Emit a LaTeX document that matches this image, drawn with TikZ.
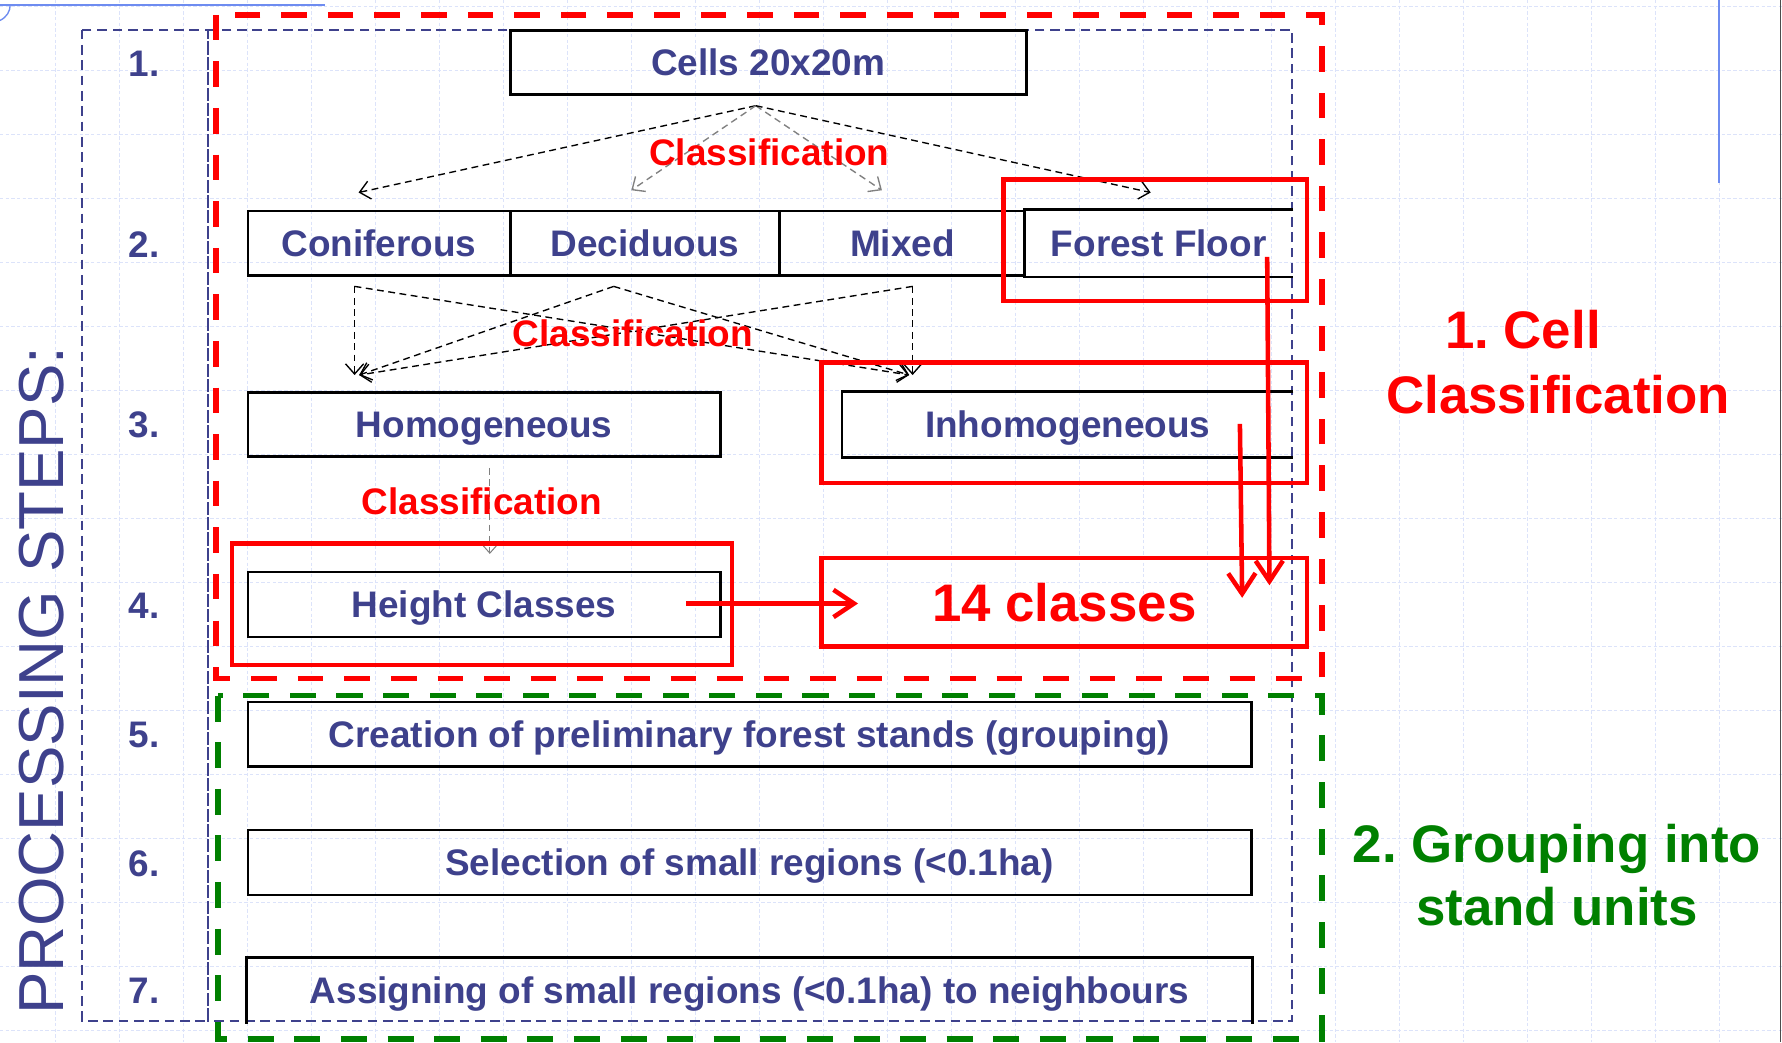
\documentclass[tikz,border=0pt]{standalone}
\usepackage{fontspec}
\setmainfont{Liberation Sans}
\usetikzlibrary{arrows.meta,calc}
\frenchspacing

\definecolor{navy}{RGB}{62,65,140}
\definecolor{gridblue}{RGB}{220,227,250}
\definecolor{slideblue}{RGB}{110,140,240}
\definecolor{darkgreen}{RGB}{0,128,0}

\newcommand{\boxfont}{\fontsize{32.5}{39}\selectfont\bfseries}
\newcommand{\bigfont}{\fontsize{46.5}{55}\selectfont\bfseries}

\tikzset{
  stepbox/.style={draw=black, line width=2.2pt, minimum height=57pt, inner sep=0pt,
    text=navy, font=\boxfont, text height=23.3pt, text depth=0pt},
  openbox/.style={stepbox, draw=none},
  stepnum/.style={text=navy, font=\boxfont, inner sep=0pt},
  classlabel/.style={text=red, font=\boxfont, inner sep=0pt},
  flowarrow/.style={line width=1.2pt, dash pattern=on 6pt off 4pt,
    -{Straight Barb[length=9pt,width=16pt]}},
  redbox/.style={draw=red, line width=4pt},
  redarrow/.style={red, line width=4pt, -{Straight Barb[length=18pt,width=24pt]}},
  reddash/.style={draw=red, line width=5pt, dash pattern=on 22.5pt off 18.5pt},
  greendash/.style={draw=darkgreen, line width=5pt, dash pattern=on 23pt off 18pt},
  navydash/.style={draw=navy, line width=1.7pt, dash pattern=on 8.5pt off 5pt},
  gridline/.style={gridblue, line width=0.8pt, dash pattern=on 3pt off 2pt}
}

\begin{document}
\begin{tikzpicture}[x=1pt,y=-1pt]
\useasboundingbox (0,0) rectangle (1568,917);
\fill[white] (0,0) rectangle (1568,917);

% Background grid of the slide.
\foreach \gx in {0,...,27}
  \draw[gridline] ({48.8+56.3*\gx},0) -- ++(0,917);
\foreach \gy in {0,...,16}
  \draw[gridline] (0,{5.9+56.3*\gy}) -- ++(1568,0);
\draw[slideblue, line width=1.5pt] (0,4.5) -- (286,4.5);
\draw[slideblue, line width=1.2pt] (0,18) .. controls (6,15) and (9,10) .. (9,4);
\draw[slideblue, line width=1.5pt] (1512.5,0) -- (1512.5,161);
\draw[black!70, line width=1pt] (1567,0) -- (1567,917);

% Dashed frames.
\draw[navydash] (72,26) rectangle (183,898);
\draw[navydash] (183,26) rectangle (1137,898);
\draw[reddash] (190,13) rectangle (1163,597);
\draw[greendash] (192,612) rectangle (1163,914);

% Step numbers.
\foreach \n/\y in {1/56,2/215,3/374,4/533,5/647,6/760,7/872}
  \node[stepnum] (num\n) at (127,\y) {\n.};
\node[rotate=90, text=navy, font=\fontsize{56}{60}\selectfont, inner sep=0pt] (steps) at (37,599) {PROCESSING STEPS:};

% Processing boxes.
\node[stepbox, minimum width=454pt, minimum height=56pt] (cells) at (676,55) {Cells 20x20m};
\node[stepbox, minimum width=231pt] (conif) at (333.5,214) {Coniferous};
\node[stepbox, minimum width=237pt] (decid) at (567.5,214) {Deciduous};
\node[stepbox, minimum width=216pt] (mixed) at (794,214) {Mixed};
\node[openbox, minimum width=235pt] (floor) at (1019.5,214) {Forest Floor};
\draw[line width=2.2pt] (floor.north east) -- (floor.north west) -- (floor.south west) -- (floor.south east);
\node[stepbox, minimum width=416pt, minimum height=56pt] (homog) at (426,373.5) {Homogeneous};
\node[openbox, minimum width=395pt, minimum height=56pt] (inhom) at (939.5,373.5) {Inhomogeneous};
\draw[line width=2.2pt] (inhom.north east) -- (inhom.north west) -- (inhom.south west) -- (inhom.south east);
\node[stepbox, minimum width=416pt] (height) at (426,532) {Height Classes};
\node[stepbox, minimum width=883pt] (grouping) at (659.5,646) {Creation of preliminary forest stands (grouping)};
\node[stepbox, minimum width=883pt] (select) at (659.5,759) {Selection of small regions (<0.1ha)};
\node[openbox, minimum width=883pt, minimum height=56pt] (assign) at (659.5,871.5) {Assigning of small regions (<0.1ha) to neighbours};
\draw[line width=2.2pt] (assign.south west) -- (assign.north west) -- (assign.north east) -- (assign.south east);

% Classification arrows.
\coordinate (split) at (665,93);
\draw[flowarrow] (split) -- ($(conif.north)+(-18,-15)$);
\draw[flowarrow, gray] (split) -- ($(decid.north)+(-12,-17)$);
\draw[flowarrow, gray] (split) -- ($(mixed.north)+(-18,-17)$);
\draw[flowarrow] (split) -- ($(floor.north)+(-7,-15)$);

\coordinate (conifout) at (312,252);
\coordinate (decidout) at (540,252);
\coordinate (mixedout) at (803,252);
\coordinate (homogin) at (316,330);
\coordinate (inhomin) at (800,330);
\draw[flowarrow] (conifout) -- (conifout |- homogin);
\draw[flowarrow] (conifout) -- (inhomin);
\draw[flowarrow] (decidout) -- (homogin);
\draw[flowarrow] (decidout) -- (inhomin);
\draw[flowarrow] (mixedout) -- (homogin);
\draw[flowarrow] (mixedout) -- (mixedout |- inhomin);

\draw[flowarrow, gray, line width=0.9pt] ($(homog.south)+(5,9)$) -- ($(height.north)+(5,-15)$);

\node[classlabel] (class1) at (677,134) {Classification};
\node[classlabel] (class2) at (557,293) {Classification};
\node[classlabel] (class3) at (424,441) {Classification};

% Result boxes and arrows.
\node[redbox, minimum width=427pt, minimum height=78pt, inner sep=0pt, text=red, font=\bigfont,
  text height=33.3pt, text depth=0pt] (classes) at (936.5,530) {14 classes};
\draw[redbox] (883,158) rectangle (1150,265);
\draw[redbox] (723,319) rectangle (1150,425);
\draw[redbox] (204,478) rectangle (644,585);

\coordinate (heightout) at (604,531);
\coordinate (floorout) at (1115,226);
\coordinate (inhomout) at (1091,373);
\draw[redarrow] (heightout) -- ($(classes.west)+(34,1)$);
\draw[redarrow] (floorout) -- ($(classes.north east)+(-35,26)$);
\draw[redarrow] (inhomout) -- ($(classes.north east)+(-59,37)$);

\node[text=red, font=\bigfont, inner sep=0pt] (cellhead) at (1340,290) {1. Cell};
\node[text=red, font=\bigfont, inner sep=0pt] (cellhead2) at (1371,347) {Classification};
\node[text=darkgreen, font=\bigfont, align=center, inner sep=0pt] (grouphead) at (1370,770) {2. Grouping into\\stand units};

\end{tikzpicture}
\end{document}
